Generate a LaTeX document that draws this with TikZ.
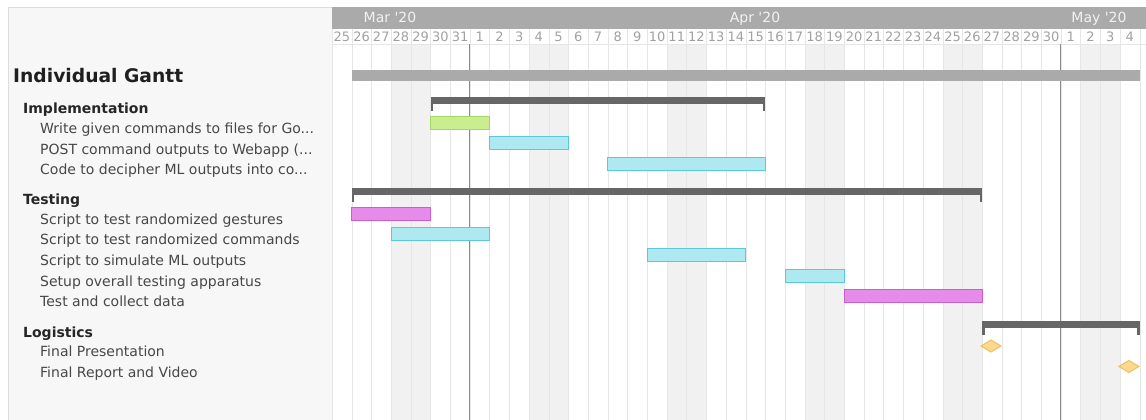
\documentclass[tikz,border=0pt]{standalone}
\usepackage{fontspec}
\setmainfont{DejaVu Sans}[Ligatures=TeXOff]
\usetikzlibrary{positioning}

\definecolor{panelbg}{HTML}{F7F7F7}
\definecolor{panelln}{HTML}{DDDDDD}
\definecolor{monthbg}{HTML}{AAAAAA}
\definecolor{monthtx}{HTML}{F2F2F2}
\definecolor{daytx}{HTML}{A0A0A0}
\definecolor{gridln}{HTML}{E6E6E6}
\definecolor{wkend}{HTML}{F1F1F1}
\definecolor{monthln}{HTML}{8A8A8A}
\definecolor{sumdark}{HTML}{666666}
\definecolor{greenfill}{HTML}{C8EE90}
\definecolor{greenline}{HTML}{A6D56A}
\definecolor{cyanfill}{HTML}{AEE9F2}
\definecolor{cyanline}{HTML}{5CC9D9}
\definecolor{pinkfill}{HTML}{E78BEA}
\definecolor{pinkline}{HTML}{C85FCB}
\definecolor{msfill}{HTML}{FBD98E}
\definecolor{msline}{HTML}{EEC061}

\newcommand{\dayw}{19.7}

\begin{document}
\begin{tikzpicture}[x=1pt, y=-1pt,
    title/.style={anchor=base west, inner sep=0pt, font=\bfseries\fontsize{18.7}{20}\selectfont, text=black!88},
    group/.style={anchor=base west, inner sep=0pt, font=\bfseries\fontsize{14}{16}\selectfont, text=black!85},
    task/.style={anchor=base west, inner sep=0pt, font=\fontsize{14}{16}\selectfont, text=black!72},
    daynum/.style={anchor=base, inner sep=0pt, font=\fontsize{13}{14}\selectfont, text=daytx},
    month/.style={anchor=base, inner sep=0pt, font=\fontsize{14}{16}\selectfont, text=monthtx},
    greenbar/.style={fill=greenfill, draw=greenline, line width=1pt},
    cyanbar/.style={fill=cyanfill, draw=cyanline, line width=1pt},
    pinkbar/.style={fill=pinkfill, draw=pinkline, line width=1pt},
    milestone/.style={fill=msfill, draw=msline, line width=1pt}]
  \useasboundingbox (0,0) rectangle (1146,420);
  \clip (0,0) rectangle (1146,420);

  % left panel
  \draw[fill=panelbg, draw=panelln] (8,7) rectangle (332,425);

  % weekend columns
  \foreach \i in {3,4,10,11,17,18,24,25,31,32,38,39}
    \fill[wkend] ({332+\i*\dayw},44) rectangle ({332+(\i+1)*\dayw},420);
  % day grid
  \foreach \i in {0,...,42}
    \draw[gridln] ({332+\i*\dayw},29) -- ({332+\i*\dayw},420);
  \draw[gridln] (332,44) -- (1146,44);

  % month bar
  \fill[monthbg] (332,7) rectangle (1146,29);
  \node[month] (mMar) at (390,23) {Mar '20};
  \node[month] (mApr) at (755,23) {Apr '20};
  \node[month] (mMay) at (1099,23) {May '20};

  % day numbers
  \foreach \d [count=\i from 0] in {25,26,27,28,29,30,31,
      1,2,3,4,5,6,7,8,9,10,11,12,13,14,15,16,17,18,19,20,
      21,22,23,24,25,26,27,28,29,30,1,2,3,4,5}
    \node[daynum] (day\i) at ({332+(\i+0.5)*\dayw},41.5) {\d};

  % month boundaries
  \draw[monthln, line width=1pt] ({332+7*\dayw},44) -- ({332+7*\dayw},420);
  \draw[monthln, line width=1pt] ({332+37*\dayw},44) -- ({332+37*\dayw},420);

  % labels
  \node[title] (lGantt) at (13,82.5) {Individual Gantt};
  \node[group] (lImpl) at (23,113) {Implementation};
  \node[task] (lWrite) at (40,133) {Write given commands to files for Go...};
  \node[task] (lPost) at (40,154) {POST command outputs to Webapp (...};
  \node[task] (lCode) at (40,174.5) {Code to decipher ML outputs into co...};
  \node[group] (lTest) at (23,204) {Testing};
  \node[task] (lGest) at (40,224) {Script to test randomized gestures};
  \node[task] (lCmds) at (40,244.5) {Script to test randomized commands};
  \node[task] (lSim) at (40,265.5) {Script to simulate ML outputs};
  \node[task] (lSetup) at (40,286) {Setup overall testing apparatus};
  \node[task] (lData) at (40,306.5) {Test and collect data};
  \node[group] (lLog) at (23,337) {Logistics};
  \node[task] (lPres) at (40,356.5) {Final Presentation};
  \node[task] (lRep) at (40,377.5) {Final Report and Video};

  % overall bar
  \fill[monthbg] ({332+1*\dayw},70) rectangle ({332+41*\dayw},81);

  % group summary bars with end ticks
  \foreach \a/\b/\y in {5/22/97, 1/33/188, 33/41/321} {
    \fill[sumdark] ({332+\a*\dayw},\y) rectangle ({332+\b*\dayw},\y+7);
    \fill[sumdark] ({332+\a*\dayw},\y) rectangle ({332+\a*\dayw+2.5},\y+14);
    \fill[sumdark] ({332+\b*\dayw-2.5},\y) rectangle ({332+\b*\dayw},\y+14);
  }

  % Implementation tasks
  \draw[greenbar] ({332+5*\dayw},116) rectangle ({332+8*\dayw},129);
  \draw[cyanbar] ({332+8*\dayw},136.5) rectangle ({332+12*\dayw},149.5);
  \draw[cyanbar] ({332+14*\dayw},157) rectangle ({332+22*\dayw},170);

  % Testing tasks
  \draw[pinkbar] ({332+1*\dayw},207) rectangle ({332+5*\dayw},220);
  \draw[cyanbar] ({332+3*\dayw},227.5) rectangle ({332+8*\dayw},240.5);
  \draw[cyanbar] ({332+16*\dayw},248.5) rectangle ({332+21*\dayw},261.5);
  \draw[cyanbar] ({332+23*\dayw},269) rectangle ({332+26*\dayw},282);
  \draw[pinkbar] ({332+26*\dayw},289.5) rectangle ({332+33*\dayw},302.5);

  % Logistics milestones
  \draw[milestone] ({332+33.45*\dayw-10},346) -- ++(10,-6) -- ++(10,6) -- ++(-10,6) -- cycle;
  \draw[milestone] ({332+40.45*\dayw-10},366.5) -- ++(10,-6) -- ++(10,6) -- ++(-10,6) -- cycle;
\end{tikzpicture}
\end{document}
